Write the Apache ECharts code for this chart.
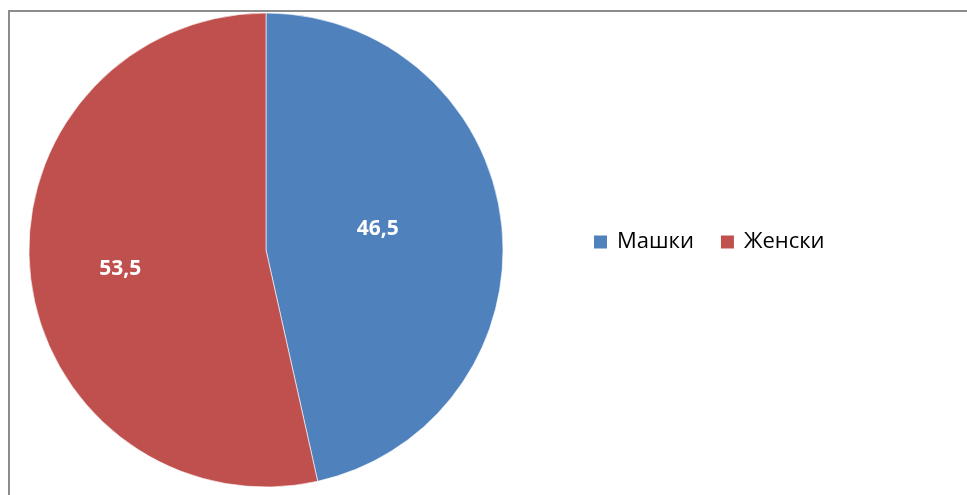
<!DOCTYPE html>
<html>
<head>
<meta charset="utf-8">
<script src="https://cdn.jsdelivr.net/npm/echarts@6/dist/echarts.min.js"></script>
<style>
  html, body { margin: 0; padding: 0; background: #fff; }
  #frame {
    position: absolute; left: 8px; top: 10px; width: 970px; height: 500px;
    border-left: 2px solid #8c8c8c; border-top: 2px solid #8c8c8c;
    box-sizing: border-box;
  }
  #chart { position: absolute; left: 0; top: 0; width: 967px; height: 495px; }
</style>
</head>
<body>
<div id="frame"></div>
<div id="chart"></div>
<script>
// Share by sex, per cent
const categories = ['Машки', 'Женски'];
const shares = [46.5, 53.5];
const colors = ['#4F81BD', '#C0504D'];

// small nudges of the value labels inside each slice
const labelNudge = [[-9, -8], [-25, 6]];

const chart = echarts.init(document.getElementById('chart'), null, { renderer: 'canvas' });

chart.setOption({
  animation: false,
  color: colors,
  legend: {
    orient: 'horizontal',
    left: 589,
    top: 226,
    padding: 5,
    icon: 'rect',
    itemWidth: 13,
    itemHeight: 13,
    itemGap: 27,
    itemStyle: { borderWidth: 0 },
    textStyle: { fontFamily: 'Open Sans', fontSize: 22, lineHeight: 22, color: '#000', padding: [0, 0, 0, 5] },
    data: categories
  },
  series: [{
    type: 'pie',
    center: [266, 250],
    radius: 237,
    startAngle: 90,
    clockwise: true,
    avoidLabelOverlap: false,
    itemStyle: { borderColor: '#ffffff', borderWidth: 0.6 },
    label: {
      show: true,
      position: 'inside',
      color: '#fff',
      fontFamily: 'Open Sans',
      fontWeight: 'bold',
      fontSize: 21,
      formatter: p => String(p.value).replace('.', ',')
    },
    labelLayout: p => ({ dx: labelNudge[p.dataIndex][0], dy: labelNudge[p.dataIndex][1] }),
    labelLine: { show: false },
    emphasis: { disabled: true },
    data: categories.map((name, i) => ({ name, value: shares[i] }))
  }]
});
</script>
</body>
</html>
